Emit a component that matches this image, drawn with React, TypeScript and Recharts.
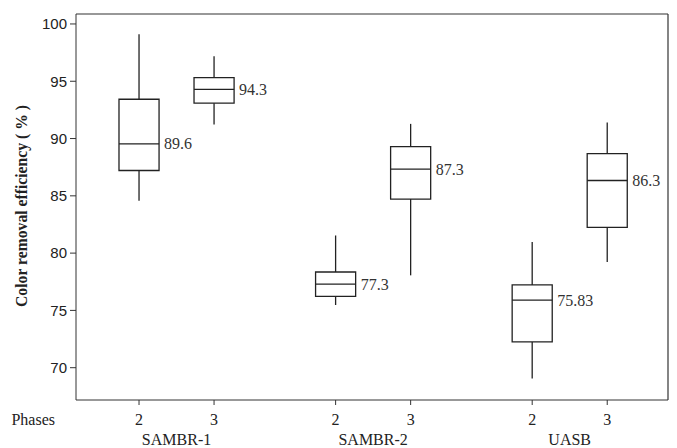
import { ComposedChart, XAxis, YAxis, Scatter, ReferenceArea, ReferenceLine, Label } from 'recharts';

// groups and phases, in drawing order
const groups = ['SAMBR-1', 'SAMBR-2', 'UASB'];
const phases = ['2', '3'];

// box statistics, one entry per (group, phase)
const whiskerLow = [84.57, 91.22, 75.47, 78.06, 69.05, 79.22];
const q1 = [87.21, 93.09, 76.23, 84.72, 72.25, 82.24];
const median = [89.54, 94.3, 77.3, 87.33, 75.9, 86.34];
const q3 = [93.43, 95.32, 78.35, 89.3, 77.22, 88.69];
const whiskerHigh = [99.1, 97.18, 81.54, 91.28, 80.97, 91.4];
const medianLabels = ['89.6', '94.3', '77.3', '87.3', '75.83', '86.3'];

const yTicks = [70, 75, 80, 85, 90, 95, 100];

const GROUP_STEP = 2.62;
const HALF = 0.267;
const X_DOMAIN: [number, number] = [-0.84, 7.05];
const Y_DOMAIN: [number, number] = [67.18, 100.87];
const INK = '#222';
const SERIF = '"Liberation Serif", "Times New Roman", serif';
const SANS = '"Liberation Sans", Arial, sans-serif';

const rows = groups.flatMap((g, gi) =>
  phases.map((p, pi) => {
    const i = gi * phases.length + pi;
    return {
      pos: gi * GROUP_STEP + pi,
      phase: p,
      lo: whiskerLow[i],
      q1: q1[i],
      med: median[i],
      q3: q3[i],
      hi: whiskerHigh[i],
      label: medianLabels[i],
    };
  })
);

const groupTicks = groups.map((_, gi) => gi * GROUP_STEP + 0.5);
const phaseOf = (v: number) => rows.find(r => Math.abs(r.pos - v) < 1e-6)?.phase ?? '';
const groupOf = (v: number) => groups[groupTicks.findIndex(t => Math.abs(t - v) < 1e-6)] ?? '';

export default function App() {
  return (
    <div style={{ width: 677, height: 448 }}>
      <style>{'body{margin:0}'}</style>
      <ComposedChart width={677} height={448} data={rows} margin={{ top: 14, right: 9, left: 0, bottom: 0 }}>
        <XAxis
          dataKey="pos"
          type="number"
          domain={X_DOMAIN}
          ticks={rows.map(r => r.pos)}
          tickFormatter={phaseOf}
          height={28}
          tickSize={5}
          tickMargin={9}
          stroke="#333"
          tick={{ fill: INK, fontSize: 16, fontFamily: SERIF }}
          allowDataOverflow
        >
          <Label
            content={({ viewBox }: any) => (
              <text x={viewBox.x - 21} y={viewBox.y + 25} textAnchor="end" fill={INK} fontSize={16} fontFamily={SERIF}>
                Phases
              </text>
            )}
          />
        </XAxis>
        <XAxis
          xAxisId="grp"
          dataKey="pos"
          type="number"
          domain={X_DOMAIN}
          ticks={groupTicks}
          tickFormatter={groupOf}
          height={20}
          axisLine={false}
          tickLine={false}
          tickSize={0}
          tickMargin={6}
          tick={{ fill: INK, fontSize: 16, fontFamily: SERIF }}
          allowDataOverflow
        />
        <YAxis
          type="number"
          domain={Y_DOMAIN}
          ticks={yTicks}
          width={76}
          tickSize={6}
          tickMargin={3}
          stroke="#333"
          tick={{ fill: INK, fontSize: 15, fontFamily: SANS }}
          allowDataOverflow
        >
          <Label
            content={({ viewBox }: any) => {
              const x = viewBox.x + 27;
              const y = viewBox.y + viewBox.height / 2 - 1;
              return (
                <text
                  x={x}
                  y={y}
                  transform={`rotate(-90 ${x} ${y})`}
                  textAnchor="middle"
                  fill={INK}
                  fontSize={15.7}
                  fontWeight="bold"
                  fontFamily={SERIF}
                >
                  Color removal efficiency ( % )
                </text>
              );
            }}
          />
        </YAxis>

        {/* frame: top and right edges */}
        <ReferenceLine y={Y_DOMAIN[1]} stroke="#333" strokeWidth={1.2} />
        <ReferenceLine x={X_DOMAIN[1]} stroke="#333" strokeWidth={1.2} />

        {rows.map(r => (
          <ReferenceLine
            key={'wh' + r.pos}
            segment={[{ x: r.pos, y: r.q3 }, { x: r.pos, y: r.hi }]}
            stroke={INK}
            strokeWidth={1.3}
          />
        ))}
        {rows.map(r => (
          <ReferenceLine
            key={'wl' + r.pos}
            segment={[{ x: r.pos, y: r.lo }, { x: r.pos, y: r.q1 }]}
            stroke={INK}
            strokeWidth={1.3}
          />
        ))}
        {rows.map(r => (
          <ReferenceArea
            key={'b' + r.pos}
            x1={r.pos - HALF}
            x2={r.pos + HALF}
            y1={r.q1}
            y2={r.q3}
            fill="#fff"
            fillOpacity={1}
            stroke={INK}
            strokeWidth={1.3}
          />
        ))}
        {rows.map(r => (
          <ReferenceLine
            key={'m' + r.pos}
            segment={[{ x: r.pos - HALF, y: r.med }, { x: r.pos + HALF, y: r.med }]}
            stroke={INK}
            strokeWidth={1.3}
            label={{
              value: r.label,
              position: 'right',
              offset: 5,
              fill: '#333',
              fontSize: 16,
              fontFamily: SERIF,
            }}
          />
        ))}

        <Scatter dataKey="med" shape={() => <g />} isAnimationActive={false} />
      </ComposedChart>
    </div>
  );
}
